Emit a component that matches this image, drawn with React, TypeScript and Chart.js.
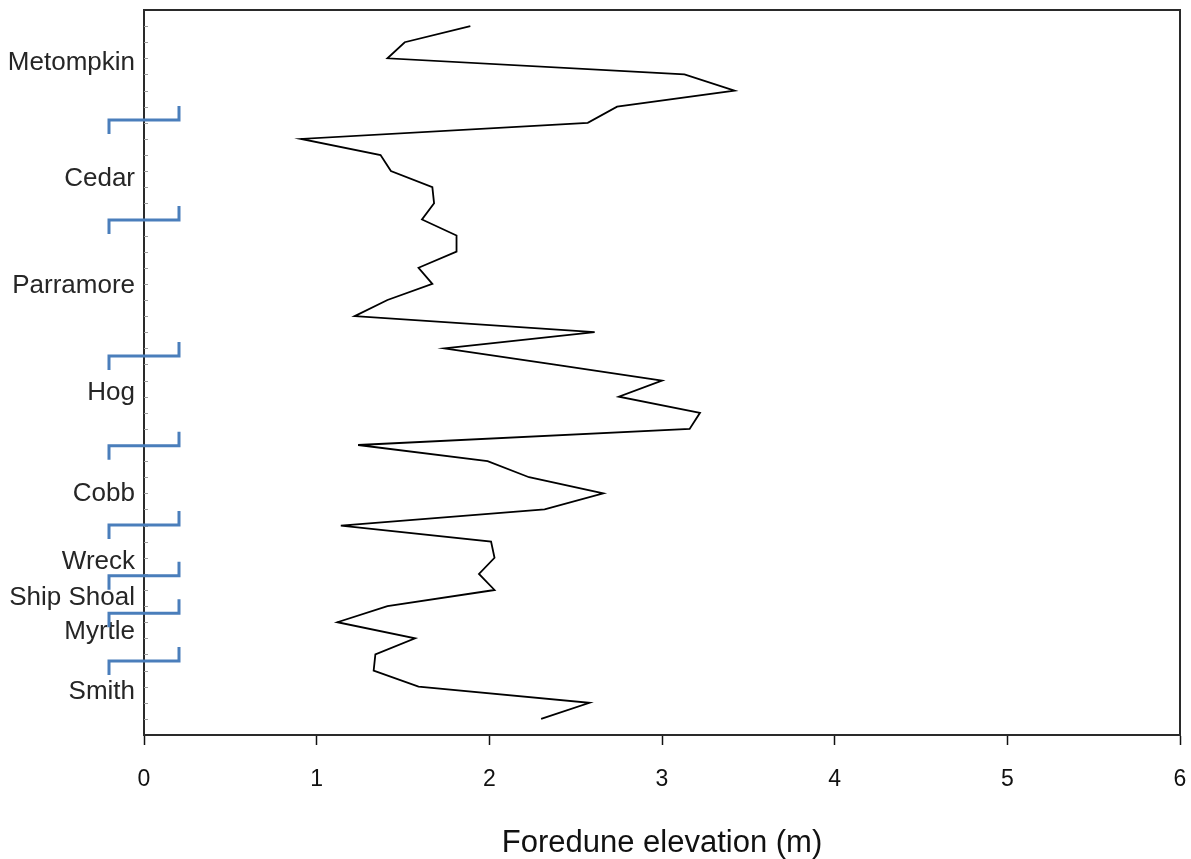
import React, { useEffect, useRef } from 'react';
import { Chart, registerables } from 'chart.js';

Chart.register(...registerables);

// Foredune elevation (m) per transect, north (top) to south (bottom)
const elevations = [
  1.89, 1.51, 1.41, 3.13, 3.42, 2.74, 2.57, 0.91, 1.37, 1.43,
  1.67, 1.68, 1.61, 1.81, 1.81, 1.59, 1.67, 1.41, 1.22, 2.61,
  1.74, 2.37, 3.0, 2.75, 3.22, 3.16, 1.24, 1.99, 2.23, 2.66,
  2.32, 1.14, 2.01, 2.03, 1.94, 2.03, 1.41, 1.12, 1.57, 1.34,
  1.33, 1.59, 2.58, 2.3,
];
const transects = elevations.map((_, i) => i);

// Island names and their label positions along the transect axis
const islands = ['Metompkin', 'Cedar', 'Parramore', 'Hog', 'Cobb', 'Wreck', 'Ship Shoal', 'Myrtle', 'Smith'];
const islandPositions = [2.29, 9.49, 16.13, 22.77, 29.04, 33.26, 35.5, 37.6, 41.3];
// Island boundaries (blue brackets) along the transect axis
const boundaries = [5.83, 12.03, 20.48, 26.05, 30.97, 34.11, 36.45, 39.41];

const xTicks = [0, 1, 2, 3, 4, 5, 6];
const xTitle = 'Foredune elevation (m)';

const FONT = '"Liberation Sans", Arial, Helvetica, sans-serif';

const decorPlugin = {
  id: 'decor',
  afterDraw(chart: any) {
    const { ctx, chartArea, scales } = chart;
    const { left, right, top, bottom } = chartArea;
    const y = scales.y;
    ctx.save();
    // minor inner ticks on left axis
    ctx.strokeStyle = '#9a9a9a';
    ctx.lineWidth = 1;
    for (const t of transects) {
      const py = Math.round(y.getPixelForValue(t)) + 0.5;
      ctx.beginPath();
      ctx.moveTo(left, py);
      ctx.lineTo(left + 4, py);
      ctx.stroke();
    }
    // frame top & right
    ctx.strokeStyle = '#2a2a2a';
    ctx.lineWidth = 2;
    ctx.beginPath();
    ctx.moveTo(left - 1, top);
    ctx.lineTo(right, top);
    ctx.lineTo(right, bottom);
    ctx.stroke();
    // island boundary brackets
    ctx.strokeStyle = '#4a7ebb';
    ctx.lineWidth = 3;
    ctx.lineJoin = 'miter';
    ctx.lineCap = 'butt';
    for (const b of boundaries) {
      const py = y.getPixelForValue(b);
      ctx.beginPath();
      ctx.moveTo(left - 35, py + 14);
      ctx.lineTo(left - 35, py);
      ctx.lineTo(left + 35, py);
      ctx.lineTo(left + 35, py - 14);
      ctx.stroke();
    }
    ctx.restore();
  },
};

export default function App() {
  const canvasRef = useRef<HTMLCanvasElement | null>(null);

  useEffect(() => {
    document.body.style.margin = '0';
    const canvas = canvasRef.current;
    if (!canvas) return;
    const chart = new Chart(canvas, {
      type: 'line',
      data: {
        datasets: [
          {
            data: elevations.map((v, i) => ({ x: v, y: transects[i] })),
            borderColor: '#000',
            borderWidth: 1.8,
            pointRadius: 0,
            tension: 0,
            fill: false,
          },
        ],
      },
      options: {
        animation: false,
        responsive: false,
        devicePixelRatio: 1,
        layout: { padding: { left: 0, right: 11, top: 10, bottom: 0 } },
        plugins: { legend: { display: false }, tooltip: { enabled: false }, title: { display: false } },
        scales: {
          x: {
            type: 'linear',
            min: 0,
            max: 6,
            afterBuildTicks: (scale: any) => {
              scale.ticks = xTicks.map((v) => ({ value: v }));
            },
            afterFit: (scale: any) => {
              scale.height = 124;
              scale.paddingLeft = 0;
              scale.paddingRight = 0;
            },
            grid: {
              display: true,
              drawOnChartArea: false,
              drawTicks: true,
              tickLength: 10,
              tickColor: '#111',
              tickWidth: 1.5,
            },
            border: { display: true, color: '#2a2a2a', width: 2 },
            ticks: {
              color: '#111',
              padding: 21,
              font: { family: FONT, size: 23 },
              maxRotation: 0,
              autoSkip: false,
            },
            title: {
              display: true,
              text: xTitle,
              color: '#111',
              font: { family: FONT, size: 31, lineHeight: 1.0 },
              padding: { top: 0, bottom: 0 },
            },
          },
          y: {
            type: 'linear',
            reverse: true,
            min: -1,
            max: 44,
            afterBuildTicks: (scale: any) => {
              scale.ticks = islandPositions.map((v) => ({ value: v }));
            },
            afterFit: (scale: any) => {
              scale.width = 144;
              scale.paddingTop = 0;
              scale.paddingBottom = 0;
            },
            grid: { display: false, drawTicks: false },
            border: { display: true, color: '#2a2a2a', width: 2 },
            ticks: {
              color: '#262626',
              padding: 9,
              autoSkip: false,
              font: { family: FONT, size: 26 },
              callback: (_v: any, i: number) => islands[i],
            },
          },
        },
      },
      plugins: [decorPlugin],
    });
    return () => chart.destroy();
  }, []);

  return (
    <div style={{ width: 1191, height: 859, background: '#fff' }}>
      <canvas ref={canvasRef} width={1191} height={859} style={{ display: 'block' }} />
    </div>
  );
}
